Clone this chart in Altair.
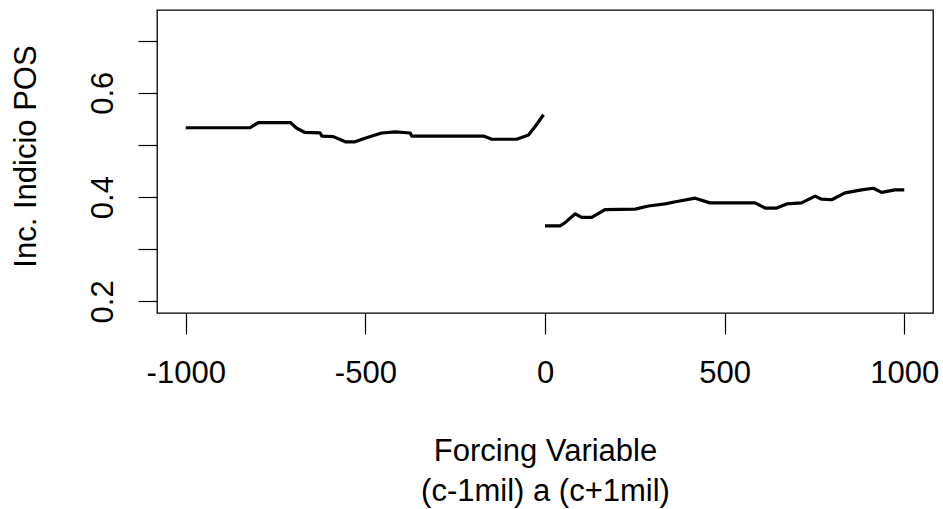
import altair as alt
import pandas as pd

# Local-regression estimates on each side of the cutoff
left_x = [-1000, -821, -798, -709, -691, -668, -626, -621, -589, -556, -529,
          -501, -455, -417, -375, -371, -171, -148, -79, -46, -28, -4]
left_y = [0.533, 0.533, 0.543, 0.543, 0.532, 0.524, 0.523, 0.517, 0.516, 0.506,
          0.506, 0.513, 0.523, 0.525, 0.523, 0.517, 0.517, 0.511, 0.511, 0.519,
          0.535, 0.558]

right_x = [0, 42, 56, 84, 102, 130, 167, 251, 288, 334, 371, 418, 459, 585, 613,
           645, 673, 714, 752, 770, 798, 835, 881, 914, 937, 974, 1000]
right_y = [0.345, 0.345, 0.351, 0.368, 0.361, 0.361, 0.376, 0.377, 0.383, 0.387,
           0.392, 0.398, 0.389, 0.389, 0.379, 0.379, 0.387, 0.389, 0.402, 0.396,
           0.395, 0.408, 0.414, 0.417, 0.409, 0.414, 0.414]

x_ticks = [-1000, -500, 0, 500, 1000]
y_ticks = [0.2, 0.3, 0.4, 0.5, 0.6, 0.7]

df = pd.concat([
    pd.DataFrame({"x": left_x, "y": left_y, "side": "left"}),
    pd.DataFrame({"x": right_x, "y": right_y, "side": "right"}),
])

FONT = "Liberation Sans"

chart = (
    alt.Chart(df)
    .mark_line(color="black", strokeWidth=3.2, strokeJoin="round")
    .encode(
        x=alt.X(
            "x:Q",
            scale=alt.Scale(domain=[-1080, 1080], nice=False, zero=False),
            axis=alt.Axis(
                values=x_ticks,
                labelExpr="'' + datum.value",
                grid=False,
                domain=False,
                tickColor="black",
                tickSize=21,
                tickWidth=1.2,
                labelFont=FONT,
                labelFontSize=31,
                labelColor="black",
                labelPadding=24,
                labelBaseline="top",
                labelFlush=False,
                title=["Forcing Variable", "(c-1mil) a (c+1mil)"],
                titleFont=FONT,
                titleFontSize=31,
                titleFontWeight="normal",
                titleColor="black",
                titleBaseline="alphabetic",
                titleLineHeight=40,
                titleAnchor="middle",
                titleX=388,
                titleY=147,
            ),
        ),
        y=alt.Y(
            "y:Q",
            scale=alt.Scale(domain=[0.1778, 0.7588], nice=False, zero=False),
            axis=alt.Axis(
                values=y_ticks,
                labelExpr="round(datum.value * 10) % 2 == 0 ? format(datum.value, '.1f') : ''",
                grid=False,
                domain=False,
                tickColor="black",
                tickSize=19,
                tickWidth=1.2,
                labelFont=FONT,
                labelFontSize=31,
                labelColor="black",
                labelAngle=-90,
                labelAlign="center",
                labelBaseline="alphabetic",
                labelPadding=26,
                labelFlush=False,
                title="Inc. Indicio POS",
                titleFont=FONT,
                titleFontSize=31,
                titleFontWeight="normal",
                titleColor="black",
                titleAngle=270,
                titleAlign="center",
                titleBaseline="alphabetic",
                titleX=-122,
                titleY=146,
            ),
        ),
        detail="side:N",
    )
    .properties(
        width=776,
        height=303,
        background="white",
        autosize=alt.AutoSizeParams(type="none"),
        padding={"left": 157, "top": 10, "right": 10, "bottom": 196},
    )
    .configure_view(stroke="black", strokeWidth=1.3)
)

chart.save("out.html", embed_options={"renderer": "svg", "actions": False})
